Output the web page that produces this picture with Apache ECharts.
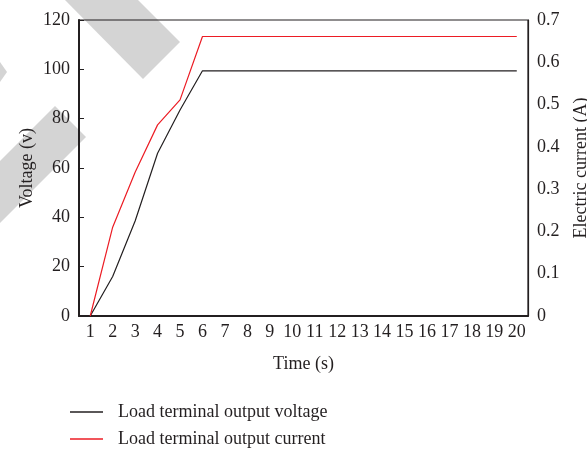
<!DOCTYPE html>
<html>
<head>
<meta charset="utf-8">
<script src="https://cdn.jsdelivr.net/npm/echarts@6/dist/echarts.min.js"></script>
<style>
  html, body { margin: 0; padding: 0; background: #fff; }
  #chart { width: 587px; height: 449px; }
</style>
</head>
<body>
<div id="chart"></div>
<script>
// Time steps (s)
const timeSteps = ['1','2','3','4','5','6','7','8','9','10','11','12','13','14','15','16','17','18','19','20'];
// Load terminal output voltage (V)
const voltage = [0, 16, 38.5, 66, 83.5, 99.4, 99.4, 99.4, 99.4, 99.4, 99.4, 99.4, 99.4, 99.4, 99.4, 99.4, 99.4, 99.4, 99.4, 99.4];
// Load terminal output current (A)
const current = [0, 0.21, 0.34, 0.452, 0.511, 0.661, 0.661, 0.661, 0.661, 0.661, 0.661, 0.661, 0.661, 0.661, 0.661, 0.661, 0.661, 0.661, 0.661, 0.661];

const FONT = 'Liberation Serif';
const FS = 18;
const TXT = '#231f20';
const BLACK = '#231f20';
const RED = '#ec1c24';

const chart = echarts.init(document.getElementById('chart'), null, { renderer: 'canvas' });

// one legend entry per row, drawn as a plain line swatch
const lineIcon = 'path://M0,0 H33 V1.3 H0 Z';
function legendRow(name, top) {
  return {
    orient: 'vertical',
    left: 70, top: top,
    padding: 0,
    itemWidth: 33, itemHeight: 1.3,
    icon: lineIcon,
    textStyle: { fontFamily: FONT, fontSize: FS, color: TXT, padding: [0, 0, 0, 10] },
    data: [name]
  };
}

chart.setOption({
  animation: false,
  backgroundColor: '#fff',
  textStyle: { fontFamily: FONT, color: TXT },
  grid: {
    left: 79, right: 59, top: 20, bottom: 133,
    outerBoundsMode: 'none',
    containLabel: false,
    show: true, borderColor: BLACK, borderWidth: 1.2, backgroundColor: 'transparent'
  },
  // light diagonal bands in the background
  graphic: [
    { type: 'polygon', z: -10, silent: true,
      shape: { points: [[65, 0], [138, 0], [180, 42], [143, 79]] },
      style: { fill: '#d4d4d4' } },
    { type: 'polygon', z: -10, silent: true,
      shape: { points: [[0, 62], [7, 72], [0, 82]] },
      style: { fill: '#d4d4d4' } },
    { type: 'polygon', z: -10, silent: true,
      shape: { points: [[55, 106], [86, 137], [0, 223], [0, 161]] },
      style: { fill: '#d4d4d4' } }
  ],
  legend: [
    legendRow('Load terminal output voltage', 403),
    legendRow('Load terminal output current', 430)
  ],
  xAxis: {
    type: 'category',
    data: timeSteps,
    boundaryGap: true,
    name: 'Time (s)',
    nameLocation: 'middle',
    nameGap: 39,
    nameTextStyle: { fontFamily: FONT, fontSize: FS, color: TXT },
    axisLine: { lineStyle: { color: BLACK, width: 2 } },
    axisTick: { inside: true, length: 5, lineStyle: { color: BLACK } },
    axisLabel: { fontFamily: FONT, fontSize: FS, color: TXT, margin: 7, interval: 0 },
    splitLine: { show: false }
  },
  yAxis: [
    {
      type: 'value',
      min: 0, max: 120, interval: 20,
      name: 'Voltage (v)',
      nameLocation: 'middle',
      nameGap: 43,
      nameMoveOverlap: false,
      nameTextStyle: { fontFamily: FONT, fontSize: FS, color: TXT },
      axisLine: { show: true, lineStyle: { color: BLACK, width: 2 } },
      axisTick: { show: true, inside: true, length: 5, lineStyle: { color: BLACK } },
      axisLabel: { fontFamily: FONT, fontSize: FS, color: TXT, margin: 9 },
      splitLine: { show: false }
    },
    {
      type: 'value',
      min: 0, max: 0.7, interval: 0.1,
      name: 'Electric current (A)',
      nameLocation: 'middle',
      nameGap: 44,
      nameMoveOverlap: false,
      nameRotate: 90,
      nameTextStyle: { fontFamily: FONT, fontSize: FS, color: TXT },
      axisLine: { show: true, lineStyle: { color: BLACK, width: 1.2 } },
      axisTick: { show: false },
      axisLabel: {
        fontFamily: FONT, fontSize: FS, color: TXT, margin: 9,
        formatter: v => (v === 0 ? '0' : v.toFixed(1))
      },
      splitLine: { show: false }
    }
  ],
  series: [
    {
      name: 'Load terminal output voltage',
      type: 'line',
      yAxisIndex: 0,
      data: voltage,
      symbol: 'none',
      lineStyle: { color: BLACK, width: 1.2 },
      itemStyle: { color: BLACK }
    },
    {
      name: 'Load terminal output current',
      type: 'line',
      yAxisIndex: 1,
      data: current,
      symbol: 'none',
      lineStyle: { color: RED, width: 1.2 },
      itemStyle: { color: RED }
    }
  ]
});
</script>
</body>
</html>
